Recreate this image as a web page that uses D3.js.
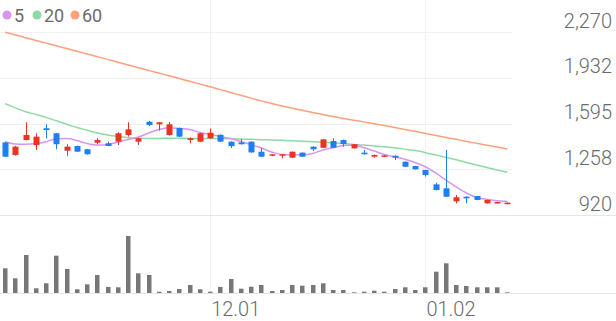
<!DOCTYPE html>
<html lang="ko">
<head>
<meta charset="UTF-8">
<title>daily candles</title>
<style>
  body { margin: 0; background: #fff; }
  svg { display: block; font-family: Roboto, "Noto Sans", sans-serif; }
</style>
</head>
<body>
<svg id="chart"></svg>
<script src="https://cdn.jsdelivr.net/npm/d3@7/dist/d3.min.js"></script>
<script>

const dates = ['11.03', '11.04', '11.07', '11.08', '11.09', '11.10', '11.11', '11.14', '11.15', '11.16',
    '11.17', '11.18', '11.21', '11.22', '11.23', '11.24', '11.25', '11.28', '11.29', '11.30',
    '12.01', '12.02', '12.05', '12.06', '12.07', '12.08', '12.09', '12.12', '12.13', '12.14',
    '12.15', '12.16', '12.19', '12.20', '12.21', '12.22', '12.23', '12.26', '12.27', '12.28',
    '12.29', '01.02', '01.03', '01.04', '01.05', '01.06', '01.09', '01.10', '01.11', '01.12']

const open = [1456, 1363, 1473, 1436, 1560, 1523, 1394, 1429, 1405, 1453,
    1449, 1461, 1510, 1461, 1608, 1589, 1510, 1562, 1473, 1461,
    1486, 1512, 1461, 1456, 1461, 1387, 1357, 1357, 1343, 1380,
    1424, 1416, 1466, 1473, 1412, 1380, 1350, 1350, 1357, 1313,
    1281, 1252, 1146, 1117, 1021, 1055, 1060, 1006, 1006, 1001]
const high = [1458, 1430, 1604, 1523, 1589, 1525, 1442, 1431, 1407, 1486,
    1461, 1530, 1604, 1490, 1615, 1606, 1606, 1565, 1493, 1526,
    1558, 1515, 1463, 1480, 1463, 1412, 1370, 1370, 1389, 1382,
    1426, 1481, 1486, 1476, 1444, 1400, 1365, 1362, 1359, 1315,
    1283, 1254, 1158, 1400, 1068, 1057, 1062, 1033, 1018, 1013]
const low = [1348, 1358, 1470, 1400, 1486, 1405, 1357, 1385, 1366, 1442,
    1427, 1436, 1498, 1436, 1577, 1543, 1505, 1495, 1449, 1458,
    1483, 1458, 1414, 1440, 1379, 1348, 1355, 1338, 1341, 1348,
    1392, 1414, 1414, 1424, 1410, 1366, 1343, 1348, 1326, 1274,
    1255, 1203, 1102, 1053, 1006, 1006, 1029, 1004, 1004, 999]
const close = [1350, 1424, 1510, 1498, 1547, 1442, 1424, 1387, 1368, 1473,
    1429, 1523, 1552, 1486, 1584, 1604, 1589, 1498, 1486, 1523,
    1527, 1461, 1428, 1442, 1382, 1350, 1368, 1368, 1387, 1350,
    1405, 1478, 1416, 1444, 1442, 1368, 1363, 1360, 1343, 1276,
    1257, 1215, 1104, 1055, 1051, 1043, 1031, 1031, 1016, 1011]

const volume = [247000, 147000, 380000, 47000, 97000, 373000, 240000, 37000, 87000, 180000,
    60000, 57000, 570000, 197000, 180000, 13000, 20000, 40000, 80000, 37000,
    13000, 60000, 140000, 43000, 63000, 80000, 20000, 30000, 80000, 73000,
    80000, 97000, 30000, 30000, 7000, 13000, 23000, 13000, 40000, 57000,
    30000, 57000, 213000, 297000, 80000, 70000, 57000, 57000, 57000, 7000]

const ma5 = [1461, 1444, 1442, 1447, 1461, 1482, 1484, 1470, 1447, 1436,
    1440, 1459, 1477, 1495, 1525, 1551, 1563, 1558, 1551, 1529,
    1514, 1499, 1484, 1462, 1440, 1414, 1385, 1366, 1363, 1364,
    1374, 1400, 1416, 1433, 1436, 1416, 1392, 1366, 1348, 1331,
    1307, 1276, 1230, 1178, 1127, 1082, 1049, 1035, 1026, 1020]
const ma20 = [1742, 1710, 1682, 1662, 1640, 1615, 1590, 1565, 1545, 1525,
    1510, 1500, 1490, 1486, 1485, 1485, 1486, 1486, 1485, 1485,
    1484, 1483, 1482, 1480, 1478, 1476, 1474, 1471, 1468, 1464,
    1461, 1457, 1452, 1447, 1441, 1436, 1429, 1423, 1416, 1406,
    1395, 1380, 1363, 1345, 1327, 1308, 1289, 1270, 1252, 1235]
const ma60 = [2268, 2248, 2228, 2208, 2188, 2168, 2148, 2128, 2108, 2088,
    2068, 2047, 2027, 2007, 1987, 1967, 1947, 1927, 1906, 1886,
    1866, 1845, 1824, 1803, 1782, 1762, 1742, 1724, 1708, 1692,
    1676, 1661, 1646, 1632, 1619, 1607, 1594, 1580, 1566, 1551,
    1537, 1522, 1507, 1492, 1478, 1463, 1449, 1435, 1421, 1407]

const yTicks = [2270, 1932.5, 1595, 1257.5, 920]
const yTickLabels = ['2,270', '1,932', '1,595', '1,258', '920']
const xTicks = ['12.01', '01.02']
const maNames = ['5', '20', '60']

const W = 616, H = 321
const plotRight = 512.5
const upColor = '#ec3322'
const downColor = '#1f7ff0'
const maColors = ['#d795ef', '#8fd9a6', '#ffa07c']
const gridColor = '#f1f1f1'
const textColor = '#6b6b6b'

const svg = d3.select('#chart').attr('width', W).attr('height', H)

const x = d3.scaleBand().domain(dates).range([0, plotRight])
const cx = d => x(d) + x.bandwidth() / 2
const y = d3.scaleLinear().domain([920, 2270]).range([215, 32])
const yVol = d3.scaleLinear().domain([0, 600000]).range([293, 233])

const crisp = v => Math.round(v) + 0.5

// horizontal grid
svg.append('g').selectAll('line').data(yTicks.slice(0, 4)).join('line')
    .attr('x1', 0).attr('x2', plotRight)
    .attr('y1', d => crisp(y(d))).attr('y2', d => crisp(y(d)))
    .attr('stroke', gridColor)

// month lines
svg.append('g').selectAll('line').data(xTicks).join('line')
    .attr('x1', d => crisp(cx(d))).attr('x2', d => crisp(cx(d)))
    .attr('y1', 0).attr('y2', yVol(0))
    .attr('stroke', gridColor)

// separators
svg.append('g').selectAll('line').data([crisp(y(920)), crisp(yVol(0))]).join('line')
    .attr('x1', 0).attr('x2', W)
    .attr('y1', d => d).attr('y2', d => d)
    .attr('stroke', '#e6e6e6')

// moving averages
const series = [ma5, ma20, ma60]
const line = d3.line().x((d, i) => cx(dates[i])).y(d => y(d)).curve(d3.curveMonotoneX)
svg.append('g').selectAll('path').data(series.slice().reverse()).join('path')
    .attr('d', line)
    .attr('fill', 'none')
    .attr('stroke', (d, i) => maColors[2 - i])
    .attr('stroke-width', 1.5)

// candles
const idx = d3.range(dates.length)
const colorOf = i => close[i] >= open[i] ? upColor : downColor
const candles = svg.append('g').selectAll('g').data(idx).join('g')
candles.append('line')
    .attr('x1', i => crisp(cx(dates[i]))).attr('x2', i => crisp(cx(dates[i])))
    .attr('y1', i => y(high[i])).attr('y2', i => y(low[i]))
    .attr('stroke', colorOf)
candles.append('rect')
    .attr('x', i => Math.round(cx(dates[i])) - 2.5)
    .attr('width', 6)
    .attr('y', i => y(Math.max(open[i], close[i])))
    .attr('height', i => Math.max(1.5, Math.abs(y(open[i]) - y(close[i]))))
    .attr('fill', colorOf)

// volume
svg.append('g').selectAll('rect').data(idx).join('rect')
    .attr('x', i => Math.round(cx(dates[i])) - 2)
    .attr('width', 4.5)
    .attr('y', i => yVol(volume[i]))
    .attr('height', i => yVol(0) - yVol(volume[i]))
    .attr('fill', '#777')

// y axis labels
const yAxis = svg.append('g').attr('transform', 'translate(612,0)')
    .call(d3.axisLeft(y).tickValues(yTicks).tickSize(0).tickPadding(0)
        .tickFormat((d, i) => yTickLabels[i]))
yAxis.select('.domain').remove()
yAxis.selectAll('text')
    .attr('dy', -5).attr('y', 0)
    .attr('font-size', 20).attr('font-family', 'Roboto').attr('font-weight', 300)
    .attr('fill', textColor)

// x axis labels
const xAxis = svg.append('g').attr('transform', 'translate(0,' + yVol(0) + ')')
    .call(d3.axisBottom(x).tickValues(xTicks).tickSize(0).tickPadding(0))
xAxis.select('.domain').remove()
xAxis.selectAll('text')
    .attr('text-anchor', 'start').attr('x', 1).attr('y', 23).attr('dy', 0)
    .attr('font-size', 20).attr('font-family', 'Roboto').attr('font-weight', 300)
    .attr('fill', textColor)

// legend
const lg = svg.append('g').selectAll('g').data(maNames).join('g')
    .attr('transform', (d, i) => 'translate(' + [7, 37, 75][i] + ',0)')
lg.append('circle').attr('cx', 0).attr('cy', 15).attr('r', 4.5)
    .attr('fill', (d, i) => maColors[i])
lg.append('text').attr('x', 7).attr('y', 21.5).text(d => d)
    .attr('font-size', 18).attr('fill', textColor)
</script>
</body>
</html>
